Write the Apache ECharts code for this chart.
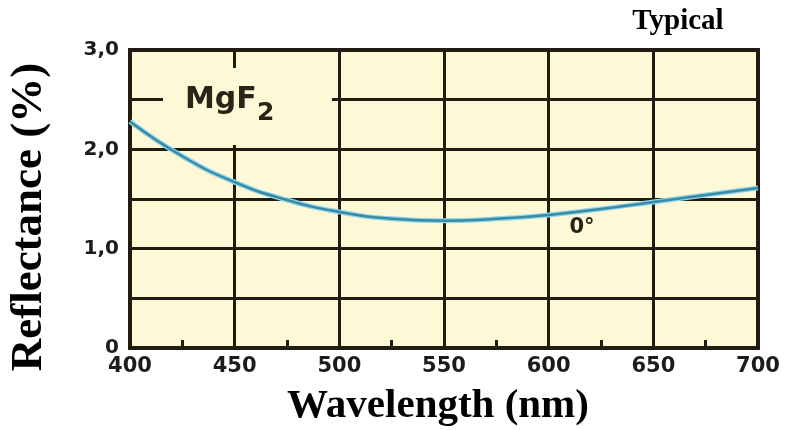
<!DOCTYPE html>
<html>
<head>
<meta charset="utf-8">
<script src="https://cdn.jsdelivr.net/npm/echarts@6/dist/echarts.min.js"></script>
<style>html,body{margin:0;padding:0;background:#fff}#c{width:785px;height:430px}</style>
</head>
<body>
<div id="c"></div>
<script>
// ---- data ----
const wavelengths = [400, 425, 450, 475, 500, 525, 550, 575, 600, 625, 650, 675, 700];
const reflectance = [2.28, 1.93, 1.67, 1.49, 1.37, 1.30, 1.28, 1.30, 1.34, 1.40, 1.47, 1.54, 1.61];
const xTickValues = [400, 450, 500, 550, 600, 650, 700];
const xTickLabels = ['400', '450', '500', '550', '600', '650', '700'];
const yTickValues = [0, 1, 2, 3];
const yTickLabels = ['0', '1,0', '2,0', '3,0'];
const seriesLabel = '0°';
const materialName = 'MgF';
const materialSub = '2';
const xTitle = 'Wavelength (nm)';
const yTitle = 'Reflectance (%)';
const cornerNote = 'Typical';

const chart = echarts.init(document.getElementById('c'), null, {renderer: 'canvas'});
const ink = '#211c12';
const bg = '#fff8d6';
const labelFont = 'DejaVu Sans';
const serif = '"Liberation Serif", "Times New Roman", serif';

const option = {
  animation: false,
  backgroundColor: '#ffffff',
  grid: {
    left: 130, right: 27, top: 50, bottom: 82,
    show: true, backgroundColor: bg, borderColor: ink, borderWidth: 4
  },
  xAxis: {
    type: 'value', min: 400, max: 700, interval: 50,
    axisLine: {show: false},
    axisTick: {show: false, inside: true},
    minorTick: {show: true, splitNumber: 2, length: 8, lineStyle: {color: ink, width: 3}},
    splitLine: {show: true, lineStyle: {color: ink, width: 3}},
    axisLabel: {
      margin: 8, color: '#1c1c1c', fontFamily: labelFont, fontWeight: 'bold', fontSize: 21,
      formatter: v => { const i = xTickValues.indexOf(v); return i >= 0 ? xTickLabels[i] : ''; }
    }
  },
  yAxis: {
    type: 'value', min: 0, max: 3, interval: 0.5,
    axisLine: {show: false},
    axisTick: {show: false},
    splitLine: {show: true, lineStyle: {color: ink, width: 3}},
    axisLabel: {
      margin: 11, color: '#1c1c1c', fontFamily: labelFont, fontWeight: 'bold', fontSize: 20,
      formatter: v => { const i = yTickValues.indexOf(v); return i >= 0 ? yTickLabels[i] : ''; }
    }
  },
  series: [
    {
      type: 'line', smooth: true, showSymbol: false, z: 3,
      data: wavelengths.map((w, i) => [w, reflectance[i]]),
      lineStyle: {color: '#8fd6ea', width: 5}
    },
    {
      type: 'line', smooth: true, showSymbol: false, z: 4,
      data: wavelengths.map((w, i) => [w, reflectance[i]]),
      lineStyle: {color: '#3a8aa3', width: 2.5}
    }
  ],
  graphic: [
    {type: 'rect', z: 1, shape: {x: 163, y: 68, width: 169, height: 77}, style: {fill: bg}},
    {type: 'text', z: 5, style: {text: materialName, x: 185, y: 100, fill: '#2a2418',
      font: 'bold 30px "DejaVu Sans"', textAlign: 'left', textVerticalAlign: 'middle'}},
    {type: 'text', z: 5, style: {text: materialSub, x: 257, y: 113, fill: '#2a2418',
      font: 'bold 25px "DejaVu Sans"', textAlign: 'left', textVerticalAlign: 'middle'}},
    {type: 'text', z: 5, style: {text: seriesLabel, x: 582, y: 228, fill: '#2a2418',
      font: 'bold 21px "DejaVu Sans"', textAlign: 'center', textVerticalAlign: 'middle'}},
    {type: 'text', z: 5, style: {text: cornerNote, x: 678, y: 22, fill: '#000',
      font: 'bold 29px ' + serif, textAlign: 'center', textVerticalAlign: 'middle'}},
    {type: 'text', z: 5, style: {text: xTitle, x: 438, y: 406, fill: '#000',
      font: 'bold 41px ' + serif, textAlign: 'center', textVerticalAlign: 'middle'}},
    {type: 'text', z: 5, x: 29, y: 217, rotation: Math.PI / 2, style: {text: yTitle, x: 0, y: 0, fill: '#000',
      font: 'bold 45px ' + serif, textAlign: 'center', textVerticalAlign: 'middle'}}
  ]
};
chart.setOption(option);
</script>
</body>
</html>
